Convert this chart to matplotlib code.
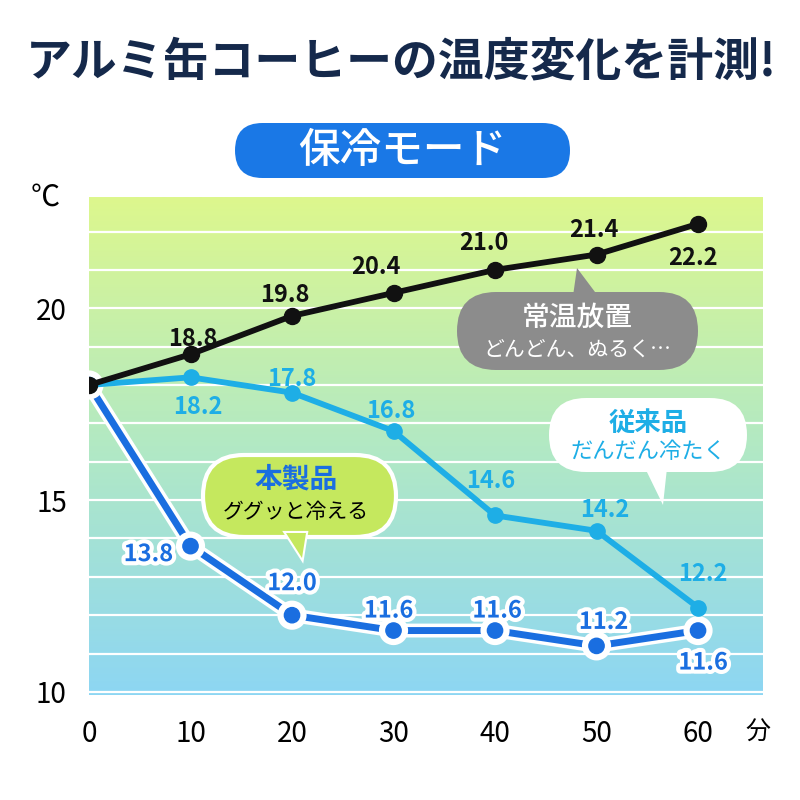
import numpy as np
import matplotlib.pyplot as plt
import matplotlib.patheffects as pe
from matplotlib.patches import FancyBboxPatch, Polygon
from matplotlib.colors import LinearSegmentedColormap

plt.rcParams['font.family'] = ['Noto Sans CJK JP', 'DejaVu Sans']

# data
minutes = [0, 10, 20, 30, 40, 50, 60]
room_temp = [18.0, 18.8, 19.8, 20.4, 21.0, 21.4, 22.2]      # 常温放置
conventional = [18.0, 18.2, 17.8, 16.8, 14.6, 14.2, 12.2]   # 従来品
product = [18.0, 13.8, 12.0, 11.6, 11.6, 11.2, 11.6]        # 本製品
y_ticks = [10, 15, 20]

# label offsets in pixels (from the point)
room_off = [None, (2, 15), (-7, 21), (-18, 26), (-11, 27), (-3, 25), (-5, -34)]
conv_off = [None, (7, -30), (0, 14), (-3, 20), (-4, 34), (8, 21), (5, 34)]
prod_off = [None, (-42, -8), (0, 32), (-5, 20), (2, 20), (7, 24), (5, -32)]

c_black = '#111111'
c_light = '#1eaee6'
c_blue = '#1a6ee0'

fig = plt.figure(figsize=(8, 8), dpi=100)
ax = fig.add_axes([89/800, 1-695/800, (763-89)/800, (695-197)/800])

# background gradient
grad = LinearSegmentedColormap.from_list('bg', ['#8dd6f3', '#b2e9c4', '#ddf78d'])
ax.imshow(np.linspace(0, 1, 256).reshape(-1, 1), cmap=grad, origin='lower',
          extent=[0, 66.4, 9.92, 22.9], aspect='auto', zorder=-1)
ax.set_xlim(0, 66.4)
ax.set_ylim(9.92, 22.9)

ax.set_yticks(range(10, 23), minor=True)
ax.set_yticks(y_ticks)
ax.grid(which='both', axis='y', color='white', lw=1.6)
ax.set_xticks(minutes)
ax.tick_params(which='both', length=0)
ax.tick_params(axis='y', labelsize=20, pad=16)
ax.tick_params(axis='x', labelsize=20, pad=17)
for s in ax.spines.values():
    s.set_visible(False)

white_edge = [pe.Stroke(linewidth=10, foreground='white'), pe.Normal()]
ax.plot(minutes, product, color=c_blue, lw=5, marker='o', ms=11,
        path_effects=white_edge, zorder=3)
ax.plot(minutes, conventional, color=c_light, lw=4.2, marker='o', ms=11, zorder=4)
ax.plot(minutes, room_temp, color=c_black, lw=4.2, marker='o', ms=11.5, zorder=5)

label_kw = dict(textcoords='offset pixels', ha='center', va='center',
                fontsize=17, fontweight='bold')
for x, y, off in zip(minutes, room_temp, room_off):
    if off:
        ax.annotate(f'{y:.1f}', (x, y), xytext=off, color=c_black, zorder=6, **label_kw)
for x, y, off in zip(minutes, conventional, conv_off):
    if off:
        ax.annotate(f'{y:.1f}', (x, y), xytext=off, color=c_light, zorder=6, **label_kw)
for x, y, off in zip(minutes, product, prod_off):
    if off:
        ax.annotate(f'{y:.1f}', (x, y), xytext=off, color=c_blue, zorder=6,
                    path_effects=[pe.withStroke(linewidth=6, foreground='white')],
                    **label_kw)

# overlay in pixel coords
ov = fig.add_axes([0, 0, 1, 1], zorder=10)
ov.set_xlim(0, 800)
ov.set_ylim(800, 0)
ov.axis('off')
ov.patch.set_alpha(0)

ov.text(401, 62, 'アルミ缶コーヒーの温度変化を計測!', ha='center', va='center',
        fontsize=33, fontweight='bold', color='#15294b')

ov.add_patch(FancyBboxPatch((235, 123), 335, 55, boxstyle='round,pad=0,rounding_size=27.5',
                            fc='#1a78e6', ec='none'))
ov.text(402, 150, '保冷モード', ha='center', va='center', fontsize=30, color='white',
        fontweight='medium')

ov.text(45, 198, '℃', ha='center', va='center', fontsize=21, color='black')
ov.text(758, 733, '分', ha='center', va='center', fontsize=18, color='black')


def bubble(x0, y0, w, h, tail, fc, ec='none', lw=0):
    ov.add_patch(FancyBboxPatch((x0, y0), w, h, boxstyle=f'round,pad=0,rounding_size={h/2}',
                                fc=fc, ec=ec, lw=lw, zorder=1))
    ov.add_patch(Polygon(tail, closed=True, fc=fc, ec=ec, lw=lw, zorder=1))
    if ec != 'none':
        # cover the outline where the tail joins
        ov.add_patch(Polygon(tail, closed=True, fc=fc, ec='none', zorder=2))


bubble(457, 292, 241, 78, [(573, 296), (577, 268), (598, 296)], '#8c8c8c')
ov.text(577, 317, '常温放置', ha='center', va='center', fontsize=20, color='white', zorder=3,
        fontweight='medium')
ov.text(577, 350, 'どんどん、ぬるく…', ha='center', va='center', fontsize=15, color='white', zorder=3)

bubble(549, 398, 198, 74, [(645, 468), (663, 505), (667, 468)], 'white')
ov.text(648, 423, '従来品', ha='center', va='center', fontsize=19, fontweight='bold',
        color=c_light, zorder=3)
ov.text(648, 452, 'だんだん冷たく', ha='center', va='center', fontsize=16, color=c_light, zorder=3)

bubble(203, 455, 193, 82, [(286, 533), (302, 558), (306, 533)], '#c5e85e', ec='white', lw=3)
ov.text(296, 480, '本製品', ha='center', va='center', fontsize=20, fontweight='bold',
        color=c_blue, zorder=3)
ov.text(296, 512, 'ググッと冷える', ha='center', va='center', fontsize=15, color='black', zorder=3)

fig.savefig('out.png', dpi=100, facecolor='white')
